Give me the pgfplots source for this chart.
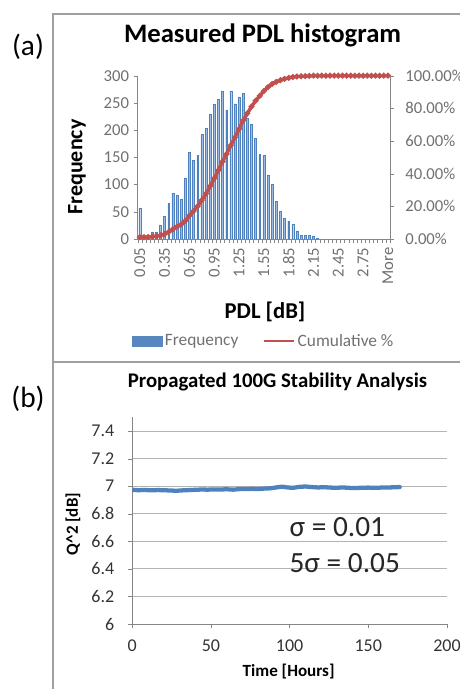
\documentclass[border=0pt]{standalone}
\usepackage{fontspec}
\setmainfont{Carlito}
\usepackage{pgfplots}
\pgfplotsset{compat=1.18}

\definecolor{barfill}{HTML}{9BBBE3}
\definecolor{barline}{HTML}{4F81BD}
\definecolor{cumred}{HTML}{C0504D}
\definecolor{qblue}{HTML}{4F81BD}
\definecolor{axgray}{HTML}{868686}
\definecolor{lblgray}{HTML}{707070}
\definecolor{gridgray}{HTML}{B3B3B3}
\definecolor{framegray}{HTML}{A0A0A0}

\begin{document}
\begin{tikzpicture}
\path[use as bounding box] (0,0) rectangle (345pt,516.75pt);
% panel frames
\draw[framegray, line width=0.8pt] (39.75pt,245.25pt) rectangle (360pt,506.25pt);
\draw[framegray, line width=0.8pt] (39.75pt,-5pt) rectangle (360pt,245.25pt);
\node[font=\fontsize{22}{26}\selectfont] at (21pt,481.5pt) {(a)};
\node[font=\fontsize{22}{26}\selectfont] at (21pt,217.5pt) {(b)};

% ---------- (a) histogram, frequency axis ----------
\begin{axis}[
  at={(103.3pt,337.5pt)}, anchor=south west, scale only axis,
  width=189.2pt, height=122.5pt,
  xmin=-0.5, xmax=60.5, ymin=0, ymax=300,
  axis x line*=bottom, axis y line*=left,
  axis line style={axgray, -},
  xtick={0,6,...,60},
  xticklabels={0.05,0.35,0.65,0.95,1.25,1.55,1.85,2.15,2.45,2.75,More},
  minor xtick={-0.5,0.5,...,60.5},
  ytick={0,50,...,300},
  tick align=outside,
  major x tick style={draw=none},
  minor x tick style={axgray},
  minor tick length=3pt,
  major tick length=3pt,
  ytick style={axgray},
  ticklabel style={font=\fontsize{12.5}{14}\selectfont, text=lblgray},
  xticklabel style={rotate=90, anchor=east},
  /pgf/number format/assume math mode=true,
  title={Measured PDL histogram},
  title style={at={(axis description cs:0.495,1.2)}, anchor=center,
    font=\bfseries\fontsize{20}{24}\selectfont},
  xlabel={PDL [dB]},
  xlabel style={at={(axis description cs:0.5045,-0.447)}, anchor=center,
    font=\bfseries\fontsize{17}{20}\selectfont},
  ylabel={Frequency},
  ylabel style={at={(axis description cs:-0.241,0.441)}, anchor=center,
    font=\bfseries\fontsize{16.5}{20}\selectfont},
]
\addplot[ybar, bar width=0.45, fill=barfill, draw=barline, line width=0.3pt] coordinates {
  (0,57) (1,2) (2,2) (3,13) (4,13) (5,26) (6,41) (7,66) (8,84) (9,81)
  (10,73) (11,111) (12,159) (13,145) (14,154) (15,192) (16,203) (17,230) (18,248) (19,257)
  (20,272) (21,237) (22,272) (23,248) (24,261) (25,267) (26,222) (27,211) (28,185) (29,155)
  (30,154) (31,118) (32,100) (33,69) (34,51) (35,39) (36,33) (37,27) (38,15) (39,7)
  (40,7) (41,7) (42,5) (43,1)
};
\end{axis}

% ---------- (a) cumulative %, right axis ----------
\begin{axis}[
  at={(103.3pt,337.5pt)}, anchor=south west, scale only axis,
  width=189.2pt, height=122.5pt,
  xmin=-0.5, xmax=60.5, ymin=0, ymax=100,
  axis x line=none, axis y line*=right,
  axis line style={axgray, -},
  ytick={0,20,...,100},
  yticklabels={0.00\%,20.00\%,40.00\%,60.00\%,80.00\%,100.00\%},
  tick align=outside, major tick length=3pt,
  ytick style={axgray},
  ticklabel style={font=\fontsize{12.5}{14}\selectfont, text=lblgray},
  yticklabel style={xshift=5pt},
  legend style={at={(axis description cs:0.5,-0.625)}, anchor=center,
    draw=none, fill=none, legend columns=2,
    font=\fontsize{13}{15}\selectfont, text=lblgray,
    /tikz/every even column/.append style={column sep=16pt}},
]
\addlegendimage{legend image code/.code={\fill[barline!95] (0pt,-3.75pt) rectangle (22.5pt,3.75pt);}}
\addlegendentry{Frequency}
\addplot[cumred, line width=2.6pt, mark=*, mark size=0.6pt,
  mark options={fill=cumred!90!black, draw=none},
  legend image code/.code={\draw[cumred, line width=2pt] (0pt,0pt) -- (22.5pt,0pt);}] coordinates {
  (0,1.11) (1,1.15) (2,1.19) (3,1.45) (4,1.70) (5,2.21) (6,3.01) (7,4.30) (8,5.94) (9,7.52)
  (10,8.95) (11,11.11) (12,14.22) (13,17.05) (14,20.06) (15,23.81) (16,27.77) (17,32.27) (18,37.11) (19,42.13)
  (20,47.44) (21,52.07) (22,57.38) (23,62.23) (24,67.32) (25,72.54) (26,76.88) (27,81.00) (28,84.61) (29,87.64)
  (30,90.64) (31,92.95) (32,94.90) (33,96.25) (34,97.25) (35,98.01) (36,98.65) (37,99.18) (38,99.47) (39,99.61)
  (40,99.75) (41,99.88) (42,99.98) (43,100) (44,100) (45,100) (46,100) (47,100) (48,100) (49,100)
  (50,100) (51,100) (52,100) (53,100) (54,100) (55,100) (56,100) (57,100) (58,100) (59,100) (60,100)
};
\addlegendentry{Cumulative \%}
\end{axis}

% ---------- (b) stability ----------
\begin{axis}[
  at={(99.2pt,48.75pt)}, anchor=south west, scale only axis,
  width=236pt, height=155pt,
  xmin=0, xmax=200, ymin=6, ymax=7.5,
  axis x line*=bottom, axis y line*=left,
  axis line style={axgray, -},
  xtick={0,50,...,200},
  ytick={6,6.2,6.4,6.6,6.8,7,7.2,7.4},
  ymajorgrids, grid style={gridgray, line width=0.6pt},
  tick align=outside, major tick length=3pt,
  tick style={axgray},
  ticklabel style={font=\fontsize{13.5}{16}\selectfont, text=black!80},
  xticklabel style={yshift=-5pt},
  yticklabel style={xshift=-7pt},
  /pgf/number format/assume math mode=true,
  title={Propagated 100G Stability Analysis},
  title style={at={(axis description cs:0.4614,1.132)}, anchor=center,
    font=\bfseries\fontsize{15.6}{18}\selectfont},
  xlabel={Time [Hours]},
  xlabel style={at={(axis description cs:0.497,-0.2308)}, anchor=center,
    font=\bfseries\fontsize{12.8}{15}\selectfont},
  ylabel={Q\textasciicircum 2 [dB]},
  ylabel style={at={(axis description cs:-0.1884,0.4838)}, anchor=center,
    font=\bfseries\fontsize{12.7}{15}\selectfont},
]
\addplot[qblue, line width=3.2pt, line join=round, line cap=round] coordinates {
  (0,6.974) (4,6.971) (8,6.973) (12,6.970) (16,6.972) (20,6.971) (24,6.969) (28,6.967)
  (32,6.970) (36,6.972) (40,6.974) (44,6.976) (48,6.975) (52,6.977) (56,6.976) (60,6.978)
  (64,6.975) (68,6.979) (72,6.980) (76,6.981) (80,6.979) (84,6.983) (88,6.985) (92,6.992)
  (95,6.997) (98,6.992) (102,6.988) (106,6.995) (110,6.998) (114,6.994) (118,6.991) (122,6.993)
  (126,6.990) (130,6.989) (134,6.991) (138,6.988) (142,6.987) (146,6.989) (150,6.990) (154,6.988)
  (158,6.990) (162,6.991) (166,6.992) (170,6.994)
};
\node[anchor=west, font=\fontsize{22}{26}\selectfont, text=black!85] at (axis description cs:0.485,0.471) {σ = 0.01};
\node[anchor=west, font=\fontsize{22}{26}\selectfont, text=black!85] at (axis description cs:0.485,0.295) {5σ = 0.05};
\end{axis}
\end{tikzpicture}
\end{document}
